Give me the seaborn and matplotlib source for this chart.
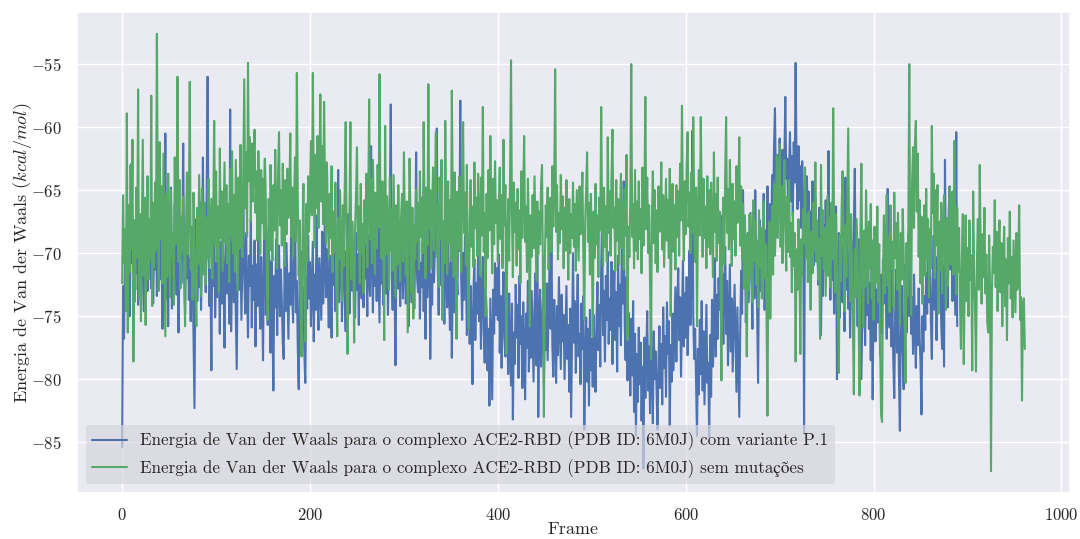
import matplotlib.pyplot as plt
import seaborn as sns
import numpy as np

# Energia de Van der Waals por frame (kcal/mol)
vdw_p1 = [
    -85.4, -72.6, -76.8, -70.1, -74.3, -68.9, -73.5, -71.2, -75.0, -69.4,
    -62.9, -70.8, -67.5, -73.9, -69.0, -71.6, -66.2, -74.1, -70.3, -68.7,
    -72.5, -67.1, -70.9, -74.6, -66.8, -71.9, -69.3, -73.0, -67.6, -70.4,
    -68.2, -72.8, -66.5, -74.0, -69.7, -71.3, -65.9, -73.4, -68.0, -70.6,
    -72.1, -67.4, -70.2, -76.0, -71.0, -68.3, -60.5, -73.6, -69.2, -75.8,
    -67.9, -71.7, -64.8, -74.4, -69.8, -72.9, -66.1, -70.0, -73.3, -68.6,
    -76.3, -70.7, -67.2, -72.4, -69.5, -61.3, -71.4, -74.8, -68.4, -72.0,
    -66.9, -73.7, -70.5, -75.4, -68.8, -71.1, -76.9, -82.3, -70.4, -67.3,
    -73.8, -69.6, -72.7, -66.0, -74.5, -70.1, -62.4, -71.5, -68.0, -73.1,
    -65.3, -56.0, -69.9, -74.2, -71.3, -79.3, -68.5, -72.6, -66.4, -75.1,
    -70.8, -73.5, -67.7, -71.2, -76.4, -69.1, -74.0, -68.2, -72.3, -77.5,
    -70.0, -66.6, -73.2, -69.4, -75.6, -58.6, -76.2, -71.8, -68.9, -73.9,
    -70.4, -74.7, -79.2, -71.0, -67.8, -72.9, -69.6, -75.3, -70.7, -66.3,
    -71.5, -74.8, -68.4, -73.1, -76.7, -70.2, -72.6, -67.3, -75.9, -71.0,
    -73.7, -69.0, -77.4, -70.9, -74.2, -68.1, -72.8, -76.0, -70.3, -73.4,
    -78.5, -69.6, -62.6, -74.9, -71.2, -75.7, -68.7, -73.0, -77.9, -70.6,
    -75.2, -80.9, -71.8, -74.3, -68.9, -76.5, -72.1, -69.4, -75.0, -71.3,
    -73.8, -77.1, -78.4, -70.5, -74.6, -69.2, -72.9, -76.8, -71.6, -74.1,
    -67.8, -73.3, -75.5, -70.0, -65.0, -74.7, -72.2, -77.6, -80.8, -71.4,
    -74.9, -69.9, -76.3, -72.7, -78.1, -80.3, -71.9, -74.4, -68.6, -73.6,
    -70.7, -75.8, -72.3, -69.1, -77.0, -71.7, -74.5, -67.0, -73.2, -76.1,
    -70.4, -72.8, -75.3, -68.3, -74.0, -71.1, -66.0, -73.5, -69.7, -72.4,
    -75.9, -70.2, -73.1, -76.7, -68.8, -72.5, -70.0, -74.6, -69.3, -71.8,
    -63.4, -73.9, -70.6, -67.5, -75.4, -71.0, -68.1, -73.7, -76.2, -69.8,
    -72.3, -66.9, -74.8, -70.5, -67.6, -73.0, -69.2, -71.7, -75.1, -68.4,
    -72.9, -70.1, -75.7, -66.4, -71.5, -73.6, -69.0, -74.3, -67.9, -72.0,
    -70.8, -75.0, -68.6, -71.9, -73.4, -61.5, -70.3, -74.7, -67.2, -72.6,
    -69.5, -73.8, -66.7, -71.2, -75.5, -68.0, -72.4, -70.6, -74.1, -67.4,
    -71.6, -73.2, -69.0, -74.9, -70.2, -66.2, -58.2, -71.8, -74.5, -69.7,
    -73.0, -78.9, -70.9, -67.1, -72.8, -69.4, -74.2, -70.7, -68.3, -73.6,
    -71.1, -66.5, -74.0, -69.9, -72.1, -75.8, -68.7, -71.4, -73.9, -67.8,
    -70.3, -74.4, -69.5, -62.0, -71.9, -73.1, -68.0, -75.2, -70.8, -72.7,
    -69.1, -74.6, -71.3, -76.8, -68.5, -73.5, -70.2, -67.0, -78.4, -71.7,
    -74.1, -68.8, -72.3, -69.6, -66.3, -60.1, -71.0, -74.9, -69.3, -72.5,
    -67.7, -73.8, -70.4, -75.6, -68.2, -71.8, -74.3, -69.0, -72.9, -76.1,
    -70.7, -78.3, -72.0, -68.4, -74.7, -66.4, -71.5, -73.3, -65.4, -69.8,
    -57.9, -72.2, -75.3, -70.0, -73.7, -68.6, -71.4, -76.5, -74.0, -70.9,
    -77.2, -72.6, -75.8, -80.4, -73.1, -70.5, -76.9, -72.4, -74.8, -69.7,
    -75.4, -71.9, -77.6, -73.0, -70.3, -76.2, -78.7, -72.8, -74.5, -79.3,
    -76.0, -82.1, -73.6, -77.8, -81.6, -72.9, -76.4, -70.8, -74.9, -71.2,
    -75.3, -70.1, -77.9, -73.4, -79.1, -74.6, -71.5, -76.8, -78.2, -72.7,
    -75.9, -79.6, -73.2, -77.4, -80.5, -74.0, -83.2, -76.3, -78.8, -72.5,
    -76.7, -74.1, -79.9, -71.8, -77.2, -75.0, -80.7, -73.9, -78.0, -81.6,
    -74.8, -77.5, -72.2, -79.4, -75.6, -78.3, -73.0, -76.6, -80.2, -74.3,
    -71.6, -78.9, -67.2, -83.0, -75.9, -72.9, -79.0, -76.2, -73.5, -80.6,
    -75.1, -77.7, -72.4, -78.5, -74.7, -70.9, -76.0, -67.7, -77.3, -79.8,
    -73.7, -76.5, -80.3, -74.2, -78.1, -71.9, -75.4, -79.2, -73.3, -77.0,
    -74.9, -80.0, -76.2, -72.6, -78.4, -75.7, -81.0, -74.4, -83.0, -76.8,
    -70.0, -77.1, -73.8, -79.5, -75.2, -71.7, -78.2, -76.4, -80.4, -74.0,
    -77.6, -73.4, -84.0, -78.9, -75.1, -80.2, -76.0, -82.1, -74.5, -79.3,
    -76.8, -80.6, -74.9, -78.2, -81.0, -75.5, -72.3, -77.7, -74.1, -79.0,
    -71.2, -66.9, -76.5, -73.0, -78.6, -71.8, -75.3, -69.9, -77.2, -73.6,
    -76.1, -70.7, -78.8, -74.2, -71.4, -76.9, -73.1, -79.4, -70.2, -75.8,
    -72.5, -77.3, -68.6, -74.0, -64.3, -75.6, -78.5, -71.9, -80.1, -74.7,
    -77.0, -81.3, -75.2, -79.7, -73.8, -82.6, -76.4, -84.5, -78.0, -81.8,
    -75.9, -80.4, -77.1, -83.3, -79.0, -87.1, -76.7, -81.5, -78.3, -74.6,
    -80.9, -77.4, -82.7, -75.0, -79.6, -83.5, -76.2, -80.0, -77.8, -81.1,
    -84.0, -78.5, -75.8, -80.7, -77.2, -82.0, -74.3, -79.1, -76.6, -81.4,
    -73.9, -78.0, -75.4, -83.7, -77.3, -80.2, -74.8, -79.3, -76.1, -72.7,
    -78.6, -74.4, -71.2, -76.9, -73.5, -79.8, -75.0, -70.6, -77.4, -73.2,
    -76.7, -71.9, -78.1, -74.6, -69.8, -75.7, -72.4, -60.3, -74.9, -78.4,
    -76.0, -80.5, -84.5, -77.6, -81.2, -75.3, -79.6, -73.8, -80.9, -76.2,
    -82.0, -77.9, -74.1, -80.3, -78.7, -84.6, -76.5, -81.4, -73.7, -79.0,
    -75.8, -70.4, -78.2, -73.3, -76.8, -72.0, -74.5, -67.0, -75.1, -71.6,
    -77.2, -73.0, -69.5, -76.4, -72.2, -78.9, -74.7, -70.9, -77.8, -73.6,
    -79.4, -75.9, -72.5, -77.0, -81.0, -74.3, -78.6, -83.0, -76.3, -71.4,
    -74.8, -65.0, -72.7, -69.1, -75.5, -71.0, -68.4, -73.9, -70.5, -66.8,
    -72.2, -76.0, -69.0, -73.6, -65.0, -71.5, -74.3, -80.3, -70.8, -67.4,
    -73.0, -69.6, -71.9, -65.3, -74.5, -68.2, -70.7, -64.7, -72.0, -67.9,
    -66.1, -69.3, -63.8, -67.5, -61.6, -58.5, -64.9, -68.7, -62.2, -66.0,
    -60.9, -64.6, -67.3, -61.8, -65.2, -63.0, -57.6, -64.1, -62.5, -66.8,
    -63.7, -60.4, -65.9, -62.3, -67.0, -61.2, -64.4, -54.9, -63.5, -66.5,
    -61.5, -65.8, -63.1, -68.0, -62.7, -66.2, -84.3, -64.8, -67.6, -63.9,
    -68.4, -65.1, -70.2, -66.7, -69.5, -64.3, -71.0, -67.2, -65.6, -70.6,
    -68.1, -72.5, -66.4, -70.0, -76.5, -69.2, -73.4, -67.8, -71.3, -65.8,
    -71.6, -68.9, -61.9, -70.4, -73.7, -67.0, -72.1, -69.5, -74.8, -70.2,
    -66.3, -80.0, -72.6, -68.4, -75.1, -71.0, -69.3, -73.9, -70.6, -76.2,
    -64.0, -72.9, -68.7, -74.4, -70.0, -76.7, -71.8, -69.1, -73.3, -67.6,
    -63.3, -72.2, -70.5, -75.8, -68.9, -73.0, -71.4, -80.0, -74.6, -69.7,
    -72.8, -77.3, -70.1, -74.9, -68.0, -76.0, -72.4, -78.5, -71.2, -81.6,
    -74.3, -70.8, -77.0, -72.9, -75.5, -69.4, -73.6, -78.1, -71.7, -76.4,
    -70.5, -74.0, -67.8, -73.1, -76.8, -64.9, -72.3, -75.9, -70.2, -77.4,
    -73.5, -78.6, -81.5, -74.7, -71.3, -77.9, -73.0, -79.8, -84.1, -75.2,
    -72.6, -77.7, -80.8, -74.1, -70.9, -76.3, -73.2, -68.5, -75.0, -71.8,
    -76.4, -73.5, -78.0, -71.7, -75.9, -79.1, -74.2, -77.3, -72.8, -76.6,
    -78.9, -82.8, -75.0, -77.8, -73.4, -76.1, -71.6, -74.8, -69.7, -73.9,
    -70.8, -75.3, -78.4, -72.1, -68.6, -74.5, -70.3, -76.9, -71.5, -67.7,
    -73.2, -69.4, -75.6, -77.6, -71.0, -79.0, -62.6, -72.7, -69.0, -74.3,
    -66.5, -64.7, -71.3, -68.0, -73.8, -65.9, -70.6, -74.9, -60.4, -75.8,
]

vdw_wt = [
    -72.4, -65.4, -70.8, -68.1, -74.6, -58.9, -76.3, -66.2, -71.5, -63.0,
    -69.7, -61.0, -78.6, -67.4, -72.9, -64.8, -70.3, -57.0, -73.6, -66.9,
    -75.4, -68.2, -61.0, -71.8, -65.6, -75.7, -69.0, -63.9, -72.1, -67.3,
    -70.5, -57.5, -74.2, -66.0, -71.1, -64.4, -69.8, -52.6, -67.5, -73.0,
    -61.2, -68.9, -64.7, -72.4, -62.1, -69.6, -76.6, -65.3, -71.9, -63.7,
    -67.8, -73.5, -65.0, -70.2, -68.4, -74.1, -62.4, -69.3, -66.6, -56.0,
    -70.7, -64.2, -72.8, -67.1, -69.9, -65.5, -71.6, -75.8, -68.0, -63.6,
    -70.1, -66.8, -56.4, -71.3, -67.9, -73.7, -65.2, -69.5, -72.2, -75.8,
    -66.4, -70.9, -63.8, -68.6, -73.4, -64.9, -69.1, -71.7, -66.0, -72.5,
    -67.2, -70.4, -64.1, -71.2, -68.3, -65.7, -72.0, -66.9, -59.5, -69.4,
    -63.5, -70.6, -66.3, -73.1, -61.7, -68.8, -65.1, -71.4, -67.0, -62.8,
    -69.2, -64.6, -70.8, -66.1, -72.3, -63.3, -68.5, -61.9, -70.0, -65.4,
    -71.5, -62.6, -67.7, -73.0, -64.0, -69.6, -61.4, -66.7, -70.3, -63.1,
    -56.2, -66.4, -62.0, -68.7, -54.9, -64.3, -60.8, -67.5, -61.3, -65.9,
    -62.7, -60.2, -66.8, -63.5, -69.0, -61.9, -65.2, -70.1, -63.4, -67.6,
    -64.1, -68.9, -62.5, -66.3, -71.4, -75.3, -65.7, -69.8, -63.0, -67.1,
    -70.6, -64.6, -68.2, -61.8, -66.9, -71.2, -63.7, -60.4, -67.8, -65.0,
    -69.4, -62.9, -66.6, -71.0, -64.2, -68.5, -63.3, -67.2, -65.8, -60.5,
    -68.7, -64.8, -70.3, -66.0, -62.4, -69.1, -55.7, -65.6, -71.8, -67.4,
    -74.6, -78.2, -69.0, -64.5, -72.3, -77.0, -66.1, -70.7, -63.9, -68.3,
    -65.2, -61.1, -67.0, -55.7, -64.7, -69.5, -62.2, -66.4, -60.7, -68.0,
    -63.6, -57.4, -65.9, -61.5, -67.7, -58.0, -64.9, -69.2, -62.8, -66.5,
    -70.4, -65.3, -68.8, -63.1, -71.5, -66.7, -69.9, -64.4, -72.6, -76.6,
    -67.2, -70.5, -65.0, -69.3, -73.8, -66.2, -71.0, -64.7, -59.6, -68.4,
    -78.0, -70.6, -66.9, -59.6, -72.1, -67.5, -70.2, -77.1, -68.0, -65.4,
    -61.6, -69.7, -66.3, -72.4, -64.5, -70.0, -67.7, -73.2, -65.8, -69.3,
    -63.7, -71.1, -66.0, -57.8, -68.9, -64.1, -70.8, -62.6, -67.4, -71.7,
    -65.2, -69.6, -63.0, -67.9, -55.8, -66.6, -70.4, -64.3, -68.5, -76.9,
    -59.9, -70.1, -65.5, -68.2, -72.9, -64.0, -69.8, -66.5, -71.4, -63.8,
    -68.6, -73.5, -66.2, -70.9, -64.6, -69.0, -72.2, -67.1, -65.3, -70.7,
    -62.0, -68.3, -71.8, -65.9, -76.3, -69.5, -62.5, -67.0, -73.1, -66.4,
    -75.2, -67.8, -70.5, -64.9, -69.1, -66.0, -71.3, -63.5, -68.7, -65.6,
    -70.0, -59.6, -67.3, -72.0, -64.8, -69.4, -56.6, -68.1, -65.0, -71.2,
    -66.7, -63.2, -69.8, -65.4, -60.4, -70.3, -66.1, -72.7, -64.0, -68.9,
    -62.6, -75.3, -67.5, -70.8, -59.5, -66.9, -71.7, -64.3, -69.2, -65.8,
    -70.6, -57.1, -66.4, -71.9, -63.6, -68.1, -76.8, -65.1, -69.7, -63.9,
    -67.3, -71.5, -64.7, -59.6, -68.4, -65.2, -70.9, -63.0, -72.3, -76.0,
    -67.7, -64.2, -69.5, -66.3, -71.1, -62.8, -68.0, -65.6, -70.2, -63.7,
    -67.1, -71.8, -64.0, -68.6, -58.4, -69.9, -66.8, -75.0, -65.3, -70.4,
    -63.4, -68.2, -60.7, -66.5, -71.6, -64.1, -69.3, -62.7, -67.6, -65.8,
    -70.7, -66.0, -63.2, -68.9, -65.4, -71.2, -61.0, -67.8, -64.6, -78.0,
    -69.4, -65.7, -70.6, -63.8, -54.7, -67.1, -71.9, -64.4, -68.3, -66.0,
    -71.0, -64.9, -69.7, -66.6, -72.4, -63.5, -68.8, -65.2, -60.7, -69.1,
    -66.3, -71.5, -64.1, -68.6, -75.8, -67.0, -70.3, -65.4, -69.6, -63.9,
    -68.0, -72.2, -65.9, -70.1, -66.7, -69.3, -64.5, -63.0, -71.8, -83.0,
    -70.9, -66.2, -68.7, -64.8, -71.3, -67.4, -65.6, -69.9, -63.1, -67.9,
    -65.0, -55.4, -68.3, -64.6, -70.5, -66.8, -69.2, -63.8, -68.1, -65.5,
    -71.2, -66.4, -69.8, -64.2, -67.6, -72.1, -65.7, -70.0, -66.9, -68.8,
    -64.4, -69.5, -66.1, -71.4, -65.0, -67.8, -70.6, -64.7, -68.5, -66.2,
    -63.6, -70.3, -75.3, -67.4, -64.9, -62.0, -69.1, -66.0, -71.7, -65.3,
    -68.9, -76.6, -66.7, -70.4, -64.5, -69.3, -67.0, -71.9, -65.6, -68.2,
    -58.4, -67.6, -71.0, -64.8, -69.5, -66.3, -70.7, -60.8, -68.4, -65.1,
    -70.2, -63.9, -60.2, -68.0, -66.4, -71.4, -64.2, -69.0, -65.7, -70.9,
    -67.2, -63.7, -69.6, -66.0, -71.3, -64.9, -68.6, -62.2, -76.9, -67.9,
    -70.3, -65.5, -55.0, -68.7, -66.1, -71.2, -63.4, -69.8, -65.9, -70.5,
    -64.3, -68.9, -66.5, -71.6, -63.2, -69.4, -65.8, -57.6, -68.1, -64.0,
    -70.0, -66.2, -72.4, -78.4, -67.3, -63.5, -69.2, -65.0, -70.8, -66.6,
    -71.5, -64.7, -68.3, -66.9, -62.8, -69.7, -65.4, -71.1, -67.5, -64.1,
    -69.0, -65.8, -70.4, -63.3, -75.0, -67.6, -64.5, -69.9, -66.2, -71.3,
    -64.6, -68.7, -65.1, -70.2, -62.9, -67.4, -58.3, -66.8, -70.6, -64.3,
    -68.5, -63.0, -60.4, -67.9, -65.2, -70.0, -63.6, -68.4, -59.2, -66.0,
    -70.7, -64.8, -75.8, -67.1, -63.4, -68.6, -59.2, -65.5, -70.3, -64.1,
    -68.8, -66.3, -71.2, -63.9, -69.5, -65.0, -70.1, -64.4, -67.7, -71.9,
    -62.0, -68.3, -65.3, -70.6, -64.0, -69.2, -66.7, -72.4, -80.1, -68.0,
    -65.6, -70.9, -63.8, -59.2, -68.4, -64.9, -69.7, -62.6, -67.3, -71.0,
    -64.5, -68.9, -65.9, -70.2, -63.1, -67.6, -66.2, -60.8, -69.4, -64.7,
    -70.5, -66.1, -72.8, -67.0, -71.3, -78.2, -68.5, -73.0, -66.9, -71.7,
    -68.2, -73.9, -65.8, -70.6, -67.4, -72.5, -69.0, -74.3, -66.6, -71.2,
    -68.0, -73.6, -70.1, -65.9, -72.0, -69.3, -74.8, -82.9, -70.4, -67.5,
    -75.2, -69.8, -66.3, -71.7, -64.5, -70.2, -67.0, -62.3, -68.8, -65.1,
    -61.4, -69.5, -64.7, -70.8, -66.2, -62.6, -68.1, -71.4, -65.5, -69.9,
    -64.2, -70.3, -67.6, -73.1, -66.8, -71.0, -68.4, -78.6, -69.7, -72.9,
    -67.3, -70.6, -78.0, -68.9, -71.8, -66.5, -69.2, -63.2, -70.4, -67.0,
    -72.3, -66.7, -70.0, -74.5, -68.3, -71.6, -66.0, -69.8, -62.8, -70.7,
    -67.4, -72.1, -68.9, -76.8, -63.0, -70.2, -66.6, -71.3, -68.0, -73.4,
    -69.6, -65.4, -71.8, -67.2, -72.7, -66.0, -70.5, -58.5, -68.3, -73.1,
    -66.9, -71.4, -75.0, -79.5, -68.6, -72.2, -66.4, -63.5, -70.0, -74.6,
    -67.8, -71.9, -65.7, -60.1, -69.5, -73.8, -66.9, -71.1, -75.6, -81.2,
    -69.7, -73.5, -67.3, -70.8, -74.4, -81.3, -68.5, -62.9, -71.6, -75.9,
    -68.2, -72.7, -65.0, -70.3, -74.0, -67.5, -71.2, -66.1, -73.6, -69.0,
    -75.3, -67.9, -72.4, -70.6, -66.3, -73.9, -69.3, -77.5, -82.8, -83.4,
    -71.7, -67.0, -73.2, -69.8, -65.4, -72.6, -68.7, -74.7, -66.2, -71.3,
    -69.1, -74.2, -65.2, -70.4, -67.6, -72.9, -66.8, -71.5, -75.7, -68.4,
    -72.1, -66.5, -70.0, -74.8, -80.3, -69.2, -73.4, -67.8, -55.0, -71.0,
    -74.9, -64.3, -61.6, -68.0, -61.4, -59.5, -66.7, -62.1, -70.3, -65.8,
    -72.4, -67.1, -74.0, -69.5, -66.2, -71.8, -64.9, -70.6, -67.3, -73.5,
    -68.1, -71.2, -59.9, -66.8, -63.7, -72.0, -65.0, -69.4, -64.6, -74.8,
    -67.5, -71.3, -66.0, -73.2, -68.7, -65.4, -70.1, -74.5, -67.2, -72.6,
    -69.0, -64.8, -70.9, -67.6, -65.1, -71.7, -61.1, -68.2, -73.3, -66.4,
    -71.5, -68.0, -74.1, -77.6, -70.4, -66.9, -78.8, -72.3, -67.0, -73.8,
    -69.6, -75.0, -67.4, -72.1, -70.2, -79.3, -65.1, -71.4, -74.2, -79.4,
    -70.7, -67.3, -72.9, -63.0, -69.8, -74.0, -68.5, -71.9, -66.4, -73.2,
    -70.1, -75.4, -76.3, -68.6, -72.8, -87.3, -73.0, -69.5, -71.6, -65.8,
    -72.7, -68.3, -74.6, -70.0, -67.4, -73.1, -69.2, -75.8, -71.0, -67.9,
    -74.2, -70.5, -76.9, -68.8, -72.4, -66.7, -73.6, -70.3, -75.1, -69.0,
    -71.8, -74.7, -68.4, -72.9, -70.6, -66.2, -75.3, -73.5, -81.7, -74.0,
    -73.6, -77.6,
]

label_p1 = "Energia de Van der Waals para o complexo ACE2-RBD (PDB ID: 6M0J) com variante P.1"
label_wt = "Energia de Van der Waals para o complexo ACE2-RBD (PDB ID: 6M0J) sem mutações"

sns.set_theme(style="darkgrid")
plt.rcParams['font.family'] = ['cmr10', 'STIXGeneral', 'DejaVu Serif']
plt.rcParams['mathtext.fontset'] = 'cm'
plt.rcParams['axes.formatter.use_mathtext'] = True
plt.rcParams['axes.unicode_minus'] = True

fig, ax = plt.subplots(figsize=(10.8, 5.39), dpi=100)
fig.subplots_adjust(left=0.0713, right=0.9907, top=0.9777, bottom=0.0853)

sns.lineplot(x=np.arange(len(vdw_p1)), y=vdw_p1, color='#4c72b0', label=label_p1, ax=ax)
sns.lineplot(x=np.arange(len(vdw_wt)), y=vdw_wt, color='#55a868', label=label_wt, ax=ax)

ax.set_xlabel("Frame", fontsize=13, labelpad=-1)
ax.set_ylabel(r"Energia de Van der Waals $(kcal/mol)$", fontsize=13, labelpad=-2)
ax.tick_params(axis='x', labelsize=12, pad=4)
ax.tick_params(axis='y', labelsize=12, pad=5)
ax.set_xticks([0, 200, 400, 600, 800, 1000])

leg = ax.legend(loc='lower left', fontsize=12.3, frameon=True, facecolor='#d6d6de',
                edgecolor='none', framealpha=0.7)

fig.savefig("out.png", dpi=100)
